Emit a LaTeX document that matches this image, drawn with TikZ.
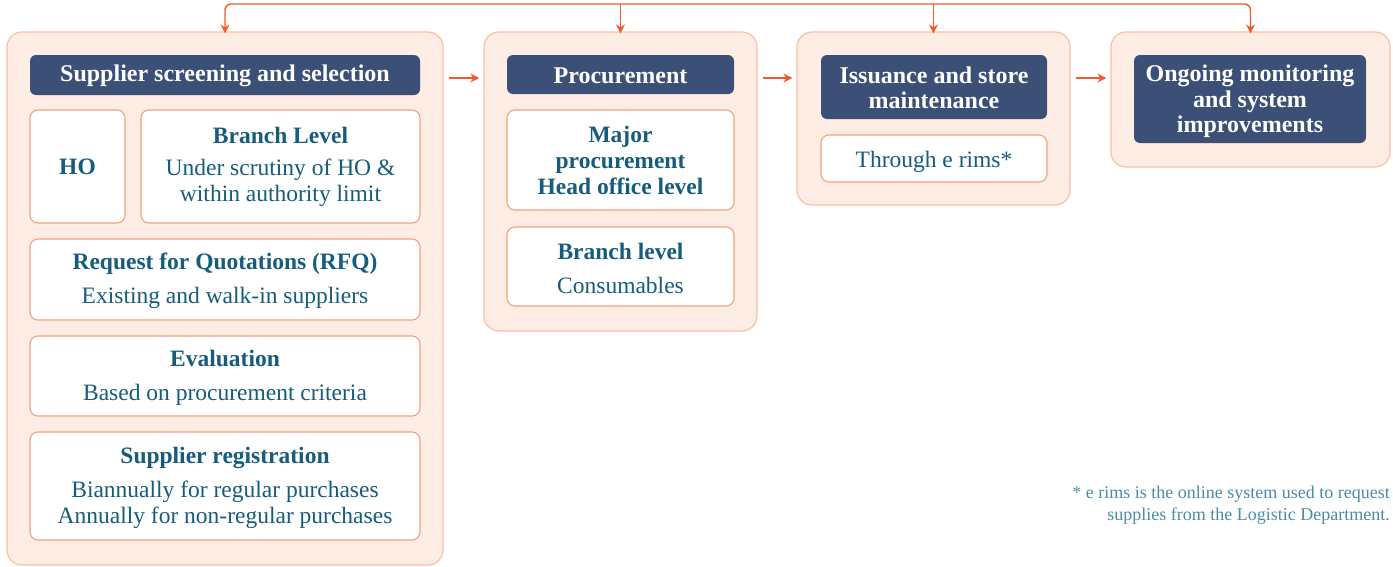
\documentclass[tikz,border=0pt]{standalone}
\usepackage{fontspec}
\setmainfont{Liberation Serif}
\usetikzlibrary{arrows.meta,calc}
\definecolor{navy}{HTML}{3B4F77}
\definecolor{ttl}{HTML}{165C7D}
\definecolor{note}{HTML}{4A8CA6}
\definecolor{arr}{HTML}{F15A29}
\definecolor{ibord}{HTML}{F7A07C}
\definecolor{obord}{HTML}{FBC0A4}
\definecolor{ofill}{HTML}{FDEDE4}
\tikzset{
  outerbox/.style={draw=obord, fill=ofill, line width=1.2pt, rounded corners=15pt, inner sep=0pt},
  headbox/.style={fill=navy, rounded corners=6pt, text=white, font=\fontsize{24}{25.5}\selectfont\bfseries, align=center, inner sep=0pt},
  innerbox/.style={draw=ibord, fill=white, line width=1.1pt, rounded corners=8pt, text=ttl, font=\fontsize{23.5}{26}\selectfont, align=center, inner sep=0pt},
  conn/.style={draw=arr, line width=1.4pt, -{Stealth[length=9pt,width=9pt]}},
}
\begin{document}
\begin{tikzpicture}[x=1pt,y=-1pt]
\useasboundingbox (0,0) rectangle (1393,566);
% outer boxes
\node[outerbox, minimum width=436, minimum height=533] (o1) at (225,298.5) {};
\node[outerbox, minimum width=273, minimum height=299] (o2) at (620.5,181.5) {};
\node[outerbox, minimum width=273, minimum height=173] (o3) at (933.5,118.5) {};
\node[outerbox, minimum width=279, minimum height=135] (o4) at (1250.5,99.5) {};
% headers
\node[headbox, minimum width=390, minimum height=40] (h1) at (225,75) {};
\node[headbox, minimum width=227, minimum height=39] (h2) at (620.5,74.5) {};
\node[headbox, minimum width=226, minimum height=64] (h3) at (934,87) {};
\node[headbox, minimum width=232, minimum height=88] (h4) at (1250,99) {};
\node[headbox, fill=none] (t1) at (225,76) {Supplier screening and selection};
\node[headbox, fill=none] (t2) at (620.5,75.5) {Procurement};
\node[headbox, fill=none] (t3) at (934,88) {Issuance and store\\maintenance};
\node[headbox, fill=none] (t4) at (1250,101.5) {Ongoing monitoring\\and system\\improvements};
% inner boxes
\node[innerbox, minimum width=95, minimum height=113] (ho) at (77.5,166.5) {\bfseries HO};
\node[innerbox, minimum width=279, minimum height=113] (bl) at (280.5,166.5) {\textbf{Branch Level}\\[6pt]Under scrutiny of HO \&\\within authority limit};
\node[innerbox, minimum width=390, minimum height=81] (rfq) at (225,279.5) {};
\node[innerbox, minimum width=390, minimum height=80] (ev) at (225,376) {};
\node[innerbox, minimum width=390, minimum height=108] (sr) at (225,486) {};
\node[innerbox, minimum width=227, minimum height=100] (mp) at (620.5,160) {\bfseries Major\\\bfseries procurement\\\bfseries Head office level};
\node[innerbox, minimum width=227, minimum height=79] (bl2) at (620.5,266.5) {};
\node[innerbox, minimum width=226, minimum height=47] (rims) at (934,158.5) {};
\node[innerbox, draw=none, fill=none] (rfqt) at (225,281) {\textbf{Request for Quotations (RFQ)}\\[8pt]Existing and walk-in suppliers};
\node[innerbox, draw=none, fill=none] (evt) at (225,377.5) {\textbf{Evaluation}\\[8pt]Based on procurement criteria};
\node[innerbox, draw=none, fill=none] (srt) at (225,488) {\textbf{Supplier registration}\\[8pt]Biannually for regular purchases\\Annually for non-regular purchases};
\node[innerbox, draw=none, fill=none] (bl2t) at (620.5,268) {\textbf{Branch level}\\[8pt]Consumables};
\node[innerbox, draw=none, fill=none] (rimst) at (934,161.5) {Through e rims*};
% footnote
\node[anchor=north east, align=right, text=note, font=\fontsize{18}{22}\selectfont, inner sep=0pt] (fn) at (1390,486) {* e rims is the online system used to request\\supplies from the Logistic Department.};
% top connector
\coordinate (top) at (0,4);
\draw[conn, rounded corners=6pt] (o2.north |- top) -| ([yshift=-2pt]o1.north);
\draw[conn, rounded corners=6pt] (o2.north |- top) -| ([yshift=-2pt]o4.north);
\draw[conn] (o2.north |- top) -- ([yshift=-2pt]o2.north);
\draw[conn] (o3.north |- top) -- ([yshift=-2pt]o3.north);
% horizontal arrows
\draw[conn] ([xshift=5pt,yshift=-3pt]o1.east |- h1.center) -- ([xshift=-4pt,yshift=-3pt]o2.west |- h1.center);
\draw[conn] ([xshift=5pt,yshift=-3pt]o2.east |- h1.center) -- ([xshift=-4pt,yshift=-3pt]o3.west |- h1.center);
\draw[conn] ([xshift=5pt,yshift=-3pt]o3.east |- h1.center) -- ([xshift=-4pt,yshift=-3pt]o4.west |- h1.center);
\end{tikzpicture}
\end{document}
